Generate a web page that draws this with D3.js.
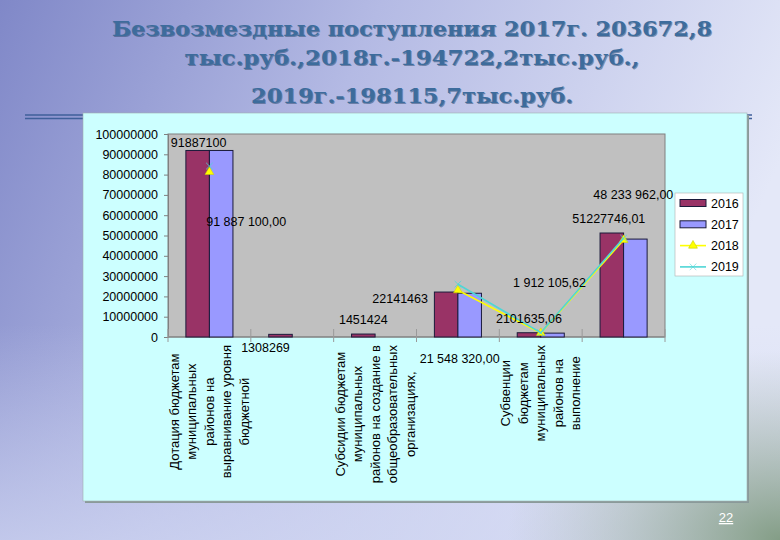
<!DOCTYPE html>
<html>
<head>
<meta charset="utf-8">
<script src="https://cdn.jsdelivr.net/npm/d3@7"></script>
<style>
  body { margin: 0; }
  #graf { width: 780px; height: 540px; }
</style>
</head>
<body>
<div id="graf"></div>
<script>
// данные
const titulo = [
  "Безвозмездные поступления 2017г. 203672,8",
  "тыс.руб.,2018г.-194722,2тыс.руб.,",
  "2019г.-198115,7тыс.руб.",
]
const categorias = [
  ["Дотация бюджетам", "муниципальных", "районов на", "выравнивание уровня", "бюджетной"],
  [],
  ["Субсидии бюджетам", "муниципальных", "районов на создание в", "общеобразовательных", "организациях,"],
  [],
  ["Субвенции", "бюджетам", "муниципальных", "районов на", "выполнение"],
  [],
]
const anios = ["2016", "2017", "2018", "2019"]
const v2016 = [91887100, 1308269, 1451424, 22141463, 2101635.06, 51227746.01]
const v2017 = [91887100, null, null, 21548320, 1912105.62, 48233962]
const v2018 = [81300000, null, null, 23000000, 2000000, 47800000]
const v2019 = [84200000, null, null, 26000000, 2100000, 48700000]
const ticksY = [0, 10000000, 20000000, 30000000, 40000000, 50000000, 60000000, 70000000, 80000000, 90000000, 100000000]

// подписи данных: категория, ряд, текст
const etiquetas = [
  { cat: 0, serie: "2016", texto: "91887100" },
  { cat: 0, serie: "2017", texto: "91 887 100,00" },
  { cat: 1, serie: "2016", texto: "1308269" },
  { cat: 2, serie: "2016", texto: "1451424" },
  { cat: 3, serie: "2016", texto: "22141463" },
  { cat: 3, serie: "2017", texto: "21 548 320,00" },
  { cat: 4, serie: "2016", texto: "2101635,06" },
  { cat: 4, serie: "2017", texto: "1 912 105,62" },
  { cat: 5, serie: "2016", texto: "51227746,01" },
  { cat: 5, serie: "2017", texto: "48 233 962,00" },
]
// смещения подписей (px) от верха столбца
const desplaz = [[1, -3], [25, 76], [-15, 18], [0, -10], [-46, 11], [-10, 70], [0, -10], [-3, -46], [-3, -10], [-2, -40]]

const colores = { "2016": "#993366", "2017": "#9999ff", "2018": "#ffff00", "2019": "#4fd6d6" }

const W = 780, H = 540
const svg = d3.select("#graf").append("svg").attr("width", W).attr("height", H)
const defs = svg.append("defs")

// фон слайда
const fondo = defs.append("linearGradient").attr("id", "fondo")
  .attr("x1", 0).attr("y1", 0).attr("x2", 1).attr("y2", 0.3)
fondo.append("stop").attr("offset", 0).attr("stop-color", "#8088c8")
fondo.append("stop").attr("offset", 0.45).attr("stop-color", "#b4bae4")
fondo.append("stop").attr("offset", 1).attr("stop-color", "#e4e8f8")
const verde = defs.append("radialGradient").attr("id", "verde")
  .attr("cx", 1).attr("cy", 1).attr("r", 0.35)
verde.append("stop").attr("offset", 0).attr("stop-color", "#7f9a80").attr("stop-opacity", 0.95)
verde.append("stop").attr("offset", 1).attr("stop-color", "#a8b8a8").attr("stop-opacity", 0)
const abajo = defs.append("linearGradient").attr("id", "abajo")
  .attr("x1", 0).attr("y1", 0).attr("x2", 0).attr("y2", 1)
abajo.append("stop").attr("offset", 0.6).attr("stop-color", "#d0d6f2").attr("stop-opacity", 0)
abajo.append("stop").attr("offset", 1).attr("stop-color", "#d0d6f2").attr("stop-opacity", 0.7)

svg.append("rect").attr("width", W).attr("height", H).attr("fill", "url(#fondo)")
svg.append("rect").attr("width", W).attr("height", H).attr("fill", "url(#abajo)")
svg.append("rect").attr("width", W).attr("height", H).attr("fill", "url(#verde)")

// заголовок
const anchoTit = [600, 455, 322]
const baseTit = [36, 65, 103]
titulo.forEach((t, i) => {
  const g = svg.append("g")
  ;[["#24446a", 1, 0.5], ["#3d6c9c", 0, 1]].forEach(([c, off, op]) => {
    g.append("text")
      .attr("x", 412 + off).attr("y", baseTit[i] + off)
      .attr("text-anchor", "middle")
      .attr("textLength", anchoTit[i]).attr("lengthAdjust", "spacingAndGlyphs")
      .attr("font-family", "DejaVu Serif").attr("font-weight", "bold")
      .attr("font-size", 21).attr("fill", c).attr("opacity", op)
      .text(t)
  })
})

// двойная линия
;[115, 118.5].forEach((y) => {
  svg.append("line").attr("x1", 25).attr("x2", 752).attr("y1", y).attr("y2", y)
    .attr("stroke", "#3f5f9a").attr("stroke-width", 1.6)
})

// панель диаграммы
svg.append("rect").attr("x", 85).attr("y", 115).attr("width", 664).attr("height", 388).attr("fill", "#8a9a9a")
svg.append("rect").attr("x", 83).attr("y", 113).attr("width", 664).attr("height", 388)
  .attr("fill", "#ccffff").attr("stroke", "#a0b0b0").attr("stroke-width", 0.6)

const x0 = 168, x1 = 665, yTop = 134, yBase = 337
const x = d3.scaleBand().domain(d3.range(categorias.length)).range([x0, x1])
const xs = d3.scaleBand().domain(["2016", "2017"]).range([0, x.bandwidth()]).paddingOuter(0.76)
const y = d3.scaleLinear().domain([0, 100000000]).range([yBase, yTop])

svg.append("rect").attr("x", x0).attr("y", yTop).attr("width", x1 - x0).attr("height", yBase - yTop)
  .attr("fill", "#c0c0c0").attr("stroke", "#808080").attr("stroke-width", 1)

// ось Y
const ejeY = svg.append("g").attr("transform", `translate(${x0},0)`)
  .call(d3.axisLeft(y).tickValues(ticksY).tickSize(4).tickPadding(6).tickFormat(d3.format("d")))
ejeY.select(".domain").attr("stroke", "#808080")
ejeY.selectAll(".tick line").attr("stroke", "#808080")
ejeY.selectAll("text").attr("font-family", "Liberation Sans, Arial").attr("font-size", 12.5).attr("fill", "#000")

// ось X
svg.append("line").attr("x1", x0).attr("x2", x1).attr("y1", yBase).attr("y2", yBase).attr("stroke", "#808080")
svg.selectAll(".tickx").data(d3.range(categorias.length + 1)).enter().append("line")
  .attr("x1", (d) => x0 + d * x.step()).attr("x2", (d) => x0 + d * x.step())
  .attr("y1", yBase - 8).attr("y2", yBase + 5).attr("stroke", "#9a9a9a")

// столбцы
const series = [["2016", v2016], ["2017", v2017]]
series.forEach(([s, vals]) => {
  svg.selectAll(".b" + s).data(vals.map((v, i) => ({ v, i })).filter((d) => d.v != null))
    .enter().append("rect")
    .attr("x", (d) => x(d.i) + xs(s))
    .attr("y", (d) => y(d.v))
    .attr("width", xs.bandwidth())
    .attr("height", (d) => yBase - y(d.v))
    .attr("fill", colores[s]).attr("stroke", "#1a1a3a").attr("stroke-width", 1)
})

// линии 2018, 2019
const cx = (i) => x(i) + x.bandwidth() / 2
const linea = d3.line().defined((d) => d != null).x((d, i) => cx(i)).y((d) => y(d))
const tri = d3.symbol().type(d3.symbolTriangle).size(34)
const cruz = d3.symbol().type(d3.symbolX).size(30)
;[["2018", v2018], ["2019", v2019]].forEach(([s, vals]) => {
  svg.append("path").attr("d", linea(vals)).attr("fill", "none")
    .attr("stroke", colores[s]).attr("stroke-width", 1.6)
  vals.forEach((v, i) => {
    if (v == null) return
    const m = svg.append("path").attr("transform", `translate(${cx(i)},${y(v)})`)
    if (s === "2018") m.attr("d", tri).attr("fill", "#ffff00").attr("stroke", "#c8d000").attr("stroke-width", 0.5)
    else m.attr("d", cruz).attr("fill", colores[s]).attr("stroke", colores[s]).attr("stroke-width", 0.8)
  })
})

// подписи данных
const valores = { "2016": v2016, "2017": v2017 }
etiquetas.forEach((e, k) => {
  const bx = x(e.cat) + xs(e.serie) + xs.bandwidth() / 2
  const by = y(valores[e.serie][e.cat])
  svg.append("text")
    .attr("x", bx + desplaz[k][0]).attr("y", by + desplaz[k][1])
    .attr("text-anchor", "middle")
    .attr("font-family", "Liberation Sans, Arial").attr("font-size", 12.5).attr("fill", "#000")
    .text(e.texto)
})

// подписи категорий (повёрнутые)
categorias.forEach((lineas, i) => {
  if (!lineas.length) return
  const n = lineas.length
  const g = svg.append("g")
  const textos = lineas.map((l, j) =>
    g.append("text")
      .attr("font-family", "Liberation Sans, Arial").attr("font-size", 13).attr("fill", "#000")
      .attr("text-anchor", "middle")
      .text(l))
  const maxLen = d3.max(textos, (t) => t.node().getComputedTextLength())
  const cy = 345 + maxLen / 2
  textos.forEach((t, j) => {
    const lx = cx(i) + (j - (n - 1) / 2) * 17.5 + 4.5
    t.attr("transform", `translate(${lx},${cy}) rotate(-90)`)
  })
})

// легенда
const leg = svg.append("g").attr("transform", "translate(675,193)")
leg.append("rect").attr("width", 68).attr("height", 83).attr("fill", "#fff").attr("stroke", "#b0b0b0").attr("stroke-width", 0.6)
anios.forEach((a, i) => {
  const ly = 10 + i * 21.3
  if (i < 2) {
    leg.append("rect").attr("x", 5).attr("y", ly - 3.5).attr("width", 26).attr("height", 7)
      .attr("fill", colores[a]).attr("stroke", "#1a1a3a").attr("stroke-width", 1)
  } else {
    leg.append("line").attr("x1", 5).attr("x2", 31).attr("y1", ly).attr("y2", ly)
      .attr("stroke", colores[a]).attr("stroke-width", 1.6)
    leg.append("path").attr("transform", `translate(18,${ly})`)
      .attr("d", i === 2 ? tri : cruz)
      .attr("fill", colores[a]).attr("stroke", i === 2 ? "#c8d000" : colores[a]).attr("stroke-width", 0.6)
  }
  leg.append("text").attr("x", 36).attr("y", ly + 4.5)
    .attr("font-family", "Liberation Sans, Arial").attr("font-size", 12.5).attr("fill", "#000")
    .text(a)
})

// номер слайда
svg.append("text").attr("x", 726).attr("y", 522).attr("text-anchor", "middle")
  .attr("font-family", "Liberation Sans, Arial").attr("font-size", 13).attr("fill", "#fff")
  .attr("text-decoration", "underline")
  .text("22")
</script>
</body>
</html>
